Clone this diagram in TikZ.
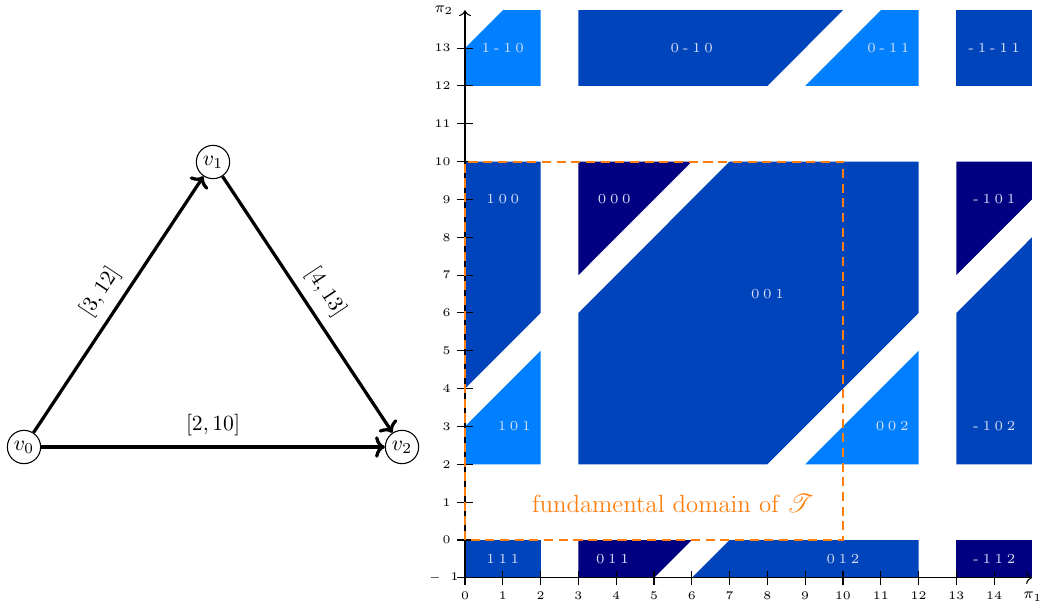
\documentclass[tikz,border=0pt]{standalone}
\usepackage{mathrsfs}
\usetikzlibrary{arrows.meta}
\definecolor{lblue}{RGB}{0,128,255}
\definecolor{mblue}{RGB}{0,68,187}
\definecolor{dblue}{RGB}{0,0,128}
\definecolor{dorange}{RGB}{255,127,14}
\definecolor{lbl}{RGB}{215,222,245}
\newcommand\lsp{\kern1.7pt}
\tikzset{
  vtx/.style={circle,draw,line width=0.5pt,inner sep=1.6pt,font=\normalsize},
  edge/.style={line width=1.5pt,-{To[length=4.5pt,width=10pt]}},
  elbl/.style={above=1pt,sloped,font=\normalsize},
  axisline/.style={line width=0.5pt,->},
  tickline/.style={line width=0.5pt},
  ticklbl/.style={inner sep=0pt,font=\fontsize{5.4}{6}\selectfont},
  axlbl/.style={inner sep=0pt,font=\scriptsize},
  rlbl/.style={inner sep=0pt,text=lbl,font=\fontsize{6.4}{8}\selectfont},
  dom/.style={draw=dorange,line width=0.9pt,dash pattern=on 4.2pt off 2.6pt},
}
\begin{document}
\begin{tikzpicture}[x=0.463pt,y=-0.463pt]
\useasboundingbox (0,0) rectangle (1041,610);
% graph
\node[vtx] (v0) at (24,447) {$v_0$};
\node[vtx] (v1) at (213,162) {$v_1$};
\node[vtx] (v2) at (402,447) {$v_2$};
\draw[edge] (v0) -- node[elbl] (l01) {$[3,12]$} (v1);
\draw[edge] (v1) -- node[elbl] (l12) {$[4,13]$} (v2);
\draw[edge] (v0) -- node[elbl] (l02) {$[2,10]$} (v2);
% plot
\begin{scope}[shift={(465,540)},x=17.5pt,y=17.52pt]
\fill[lblue] (0,12) -- (2,12) -- (2,14) -- (1,14) -- (0,13) -- cycle;
\fill[mblue] (3,12) -- (8,12) -- (10,14) -- (3,14) -- cycle;
\fill[lblue] (9,12) -- (12,12) -- (12,14) -- (11,14) -- cycle;
\fill[mblue] (13,12) rectangle (15,14);
\fill[mblue] (0,4) -- (2,6) -- (2,10) -- (0,10) -- cycle;
\fill[lblue] (0,2) -- (2,2) -- (2,5) -- (0,3) -- cycle;
\fill[dblue] (3,7) -- (3,10) -- (6,10) -- cycle;
\fill[mblue] (3,2) -- (8,2) -- (12,6) -- (12,10) -- (7,10) -- (3,6) -- cycle;
\fill[lblue] (9,2) -- (12,2) -- (12,5) -- cycle;
\fill[dblue] (13,7) -- (13,10) -- (15,10) -- (15,9) -- cycle;
\fill[mblue] (13,2) -- (15,2) -- (15,8) -- (13,6) -- cycle;
\fill[mblue] (0,-1) rectangle (2,0);
\fill[dblue] (3,-1) -- (5,-1) -- (6,0) -- (3,0) -- cycle;
\fill[mblue] (6,-1) -- (12,-1) -- (12,0) -- (7,0) -- cycle;
\fill[dblue] (13,-1) rectangle (15,0);
% region labels
\node[rlbl] (r1) at (1,13) {1\lsp-\lsp1\lsp0};
\node[rlbl] (r2) at (6,13) {0\lsp-\lsp1\lsp0};
\node[rlbl] (r3) at (11.2,13) {0\lsp-\lsp1\lsp1};
\node[rlbl] (r4) at (14,13) {-\lsp1\lsp-\lsp1\lsp1};
\node[rlbl] (r5) at (1,9) {1\lsp0\lsp0};
\node[rlbl] (r6) at (3.95,9) {0\lsp0\lsp0};
\node[rlbl] (r7) at (8,6.5) {0\lsp0\lsp1};
\node[rlbl] (r8) at (14,9) {-\lsp1\lsp0\lsp1};
\node[rlbl] (r9) at (1.3,3) {1\lsp0\lsp1};
\node[rlbl] (r10) at (11.3,3) {0\lsp0\lsp2};
\node[rlbl] (r11) at (14,3) {-\lsp1\lsp0\lsp2};
\node[rlbl] (r12) at (1,-0.5) {1\lsp1\lsp1};
\node[rlbl] (r13) at (3.9,-0.5) {0\lsp1\lsp1};
\node[rlbl] (r14) at (10,-0.5) {0\lsp1\lsp2};
\node[rlbl] (r15) at (14,-0.5) {-\lsp1\lsp1\lsp2};
% axes
\draw[axisline] (0,-1) -- (15,-1);
\draw[axisline] (0,-1) -- (0,14);
\foreach \i in {0,...,14} {
  \draw[tickline] (\i,-1.19) -- (\i,-0.81);
  \node[ticklbl,anchor=north] (xl\i) at (\i,-1.36) {\i};
}
\foreach \i in {0,...,13} {
  \draw[tickline] (-0.2,\i) -- (0.2,\i);
  \node[ticklbl,anchor=east] (yl\i) at (-0.37,\i) {\i};
}
\draw[tickline] (-0.2,-1) -- (0.2,-1);
\node[ticklbl,anchor=east] (ylm) at (-0.16,-1) {$-$\hspace{4.5pt}1};
\node[axlbl] (p1) at (15.02,-1.5) {$\pi_1$};
\node[axlbl] (p2) at (-0.56,14) {$\pi_2$};
% fundamental domain
\draw[dom] (0,0) rectangle (10,10);
\node[text=dorange,font=\fontsize{11.5}{13}\selectfont] (fd) at (5.5,0.97) {fundamental domain of $\mathscr{T}$};
\end{scope}
\end{tikzpicture}
\end{document}
